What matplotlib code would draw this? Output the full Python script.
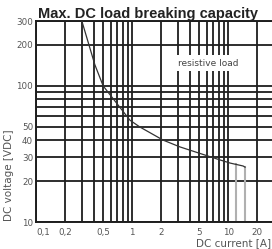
import matplotlib
matplotlib.use("Agg")
import matplotlib.pyplot as plt
from matplotlib.ticker import FixedLocator, NullLocator

# Breaking capacity curve (DC current [A], DC voltage [V])
curve_current = [0.3, 0.41, 0.5, 0.95, 1.2, 2.1, 3.16, 8.2, 10.5, 14.3, 15.0]
curve_voltage = [300, 143, 100, 56, 50, 40, 35.6, 28.6, 27.1, 25.8, 25.3]

# gray drop lines at the end of the curve
drop_current = [12.0, 15.0]
drop_top = [26.5, 25.3]

x_ticks = [0.1, 0.2, 0.5, 1, 2, 5, 10, 20]
x_ticklabels = ["0,1", "0,2", "0,5", "1", "2", "5", "10", "20"]
y_ticks = [10, 20, 30, 40, 50, 100, 200, 300]
y_ticklabels = ["10", "20", "30", "40", "50", "100", "200", "300"]

x_grid = [m * d for d in (0.1, 1, 10) for m in range(1, 10)] + [100]
y_grid = [m * d for d in (10, 100) for m in range(1, 10)] + [1000]

W, H = 272, 249
fig = plt.figure(figsize=(W / 100, H / 100), dpi=100)
ax = fig.add_axes([36 / W, 27 / H, 250 / W, 201 / H])
ax.set_xscale("log")
ax.set_yscale("log")
ax.set_xlim(0.1, 40)
ax.set_ylim(10, 300)

grid_col = "#1e1e1e"
for gx in x_grid:
    ax.axvline(gx, color=grid_col, lw=1.3, zorder=1)
for gy in y_grid:
    ax.axhline(gy, color=grid_col, lw=1.3, zorder=1)

ax.plot(curve_current, curve_voltage, color="#333333", lw=0.9, zorder=3)
for xc, yt in zip(drop_current, drop_top):
    ax.plot([xc, xc], [10, yt], color="#b0b0b0", lw=1.5, zorder=2)

ax.text(6.2, 147, "resistive load", fontsize=6.5, color="#444444",
        ha="center", va="center", zorder=4,
        bbox=dict(facecolor="white", edgecolor="none", pad=2.5))

ax.xaxis.set_major_locator(FixedLocator(x_ticks))
ax.xaxis.set_minor_locator(NullLocator())
ax.set_xticklabels(x_ticklabels)
ax.yaxis.set_major_locator(FixedLocator(y_ticks))
ax.yaxis.set_minor_locator(NullLocator())
ax.set_yticklabels(y_ticklabels)
ax.tick_params(length=0, labelsize=6.3, labelcolor="#555555")
ax.tick_params(axis="x", pad=4)
ax.tick_params(axis="y", pad=2)
ax.get_xticklabels()[0].set_horizontalalignment("left")
for sp in ax.spines.values():
    sp.set_color(grid_col)
    sp.set_linewidth(1.4)

fig.text(148 / W, 1 - 14 / H, "Max. DC load breaking capacity", fontsize=10.5,
         fontweight="bold", family="Liberation Sans", color="#222222",
         ha="center", va="center")
fig.text(9 / W, 1 - 175 / H, "DC voltage [VDC]", fontsize=7.5, color="#555555",
         rotation=90, ha="center", va="center")
fig.text(196 / W, 1 - 243 / H, "DC current [A]", fontsize=7.5, color="#555555",
         ha="left", va="center")

fig.savefig("out.png", dpi=100)
